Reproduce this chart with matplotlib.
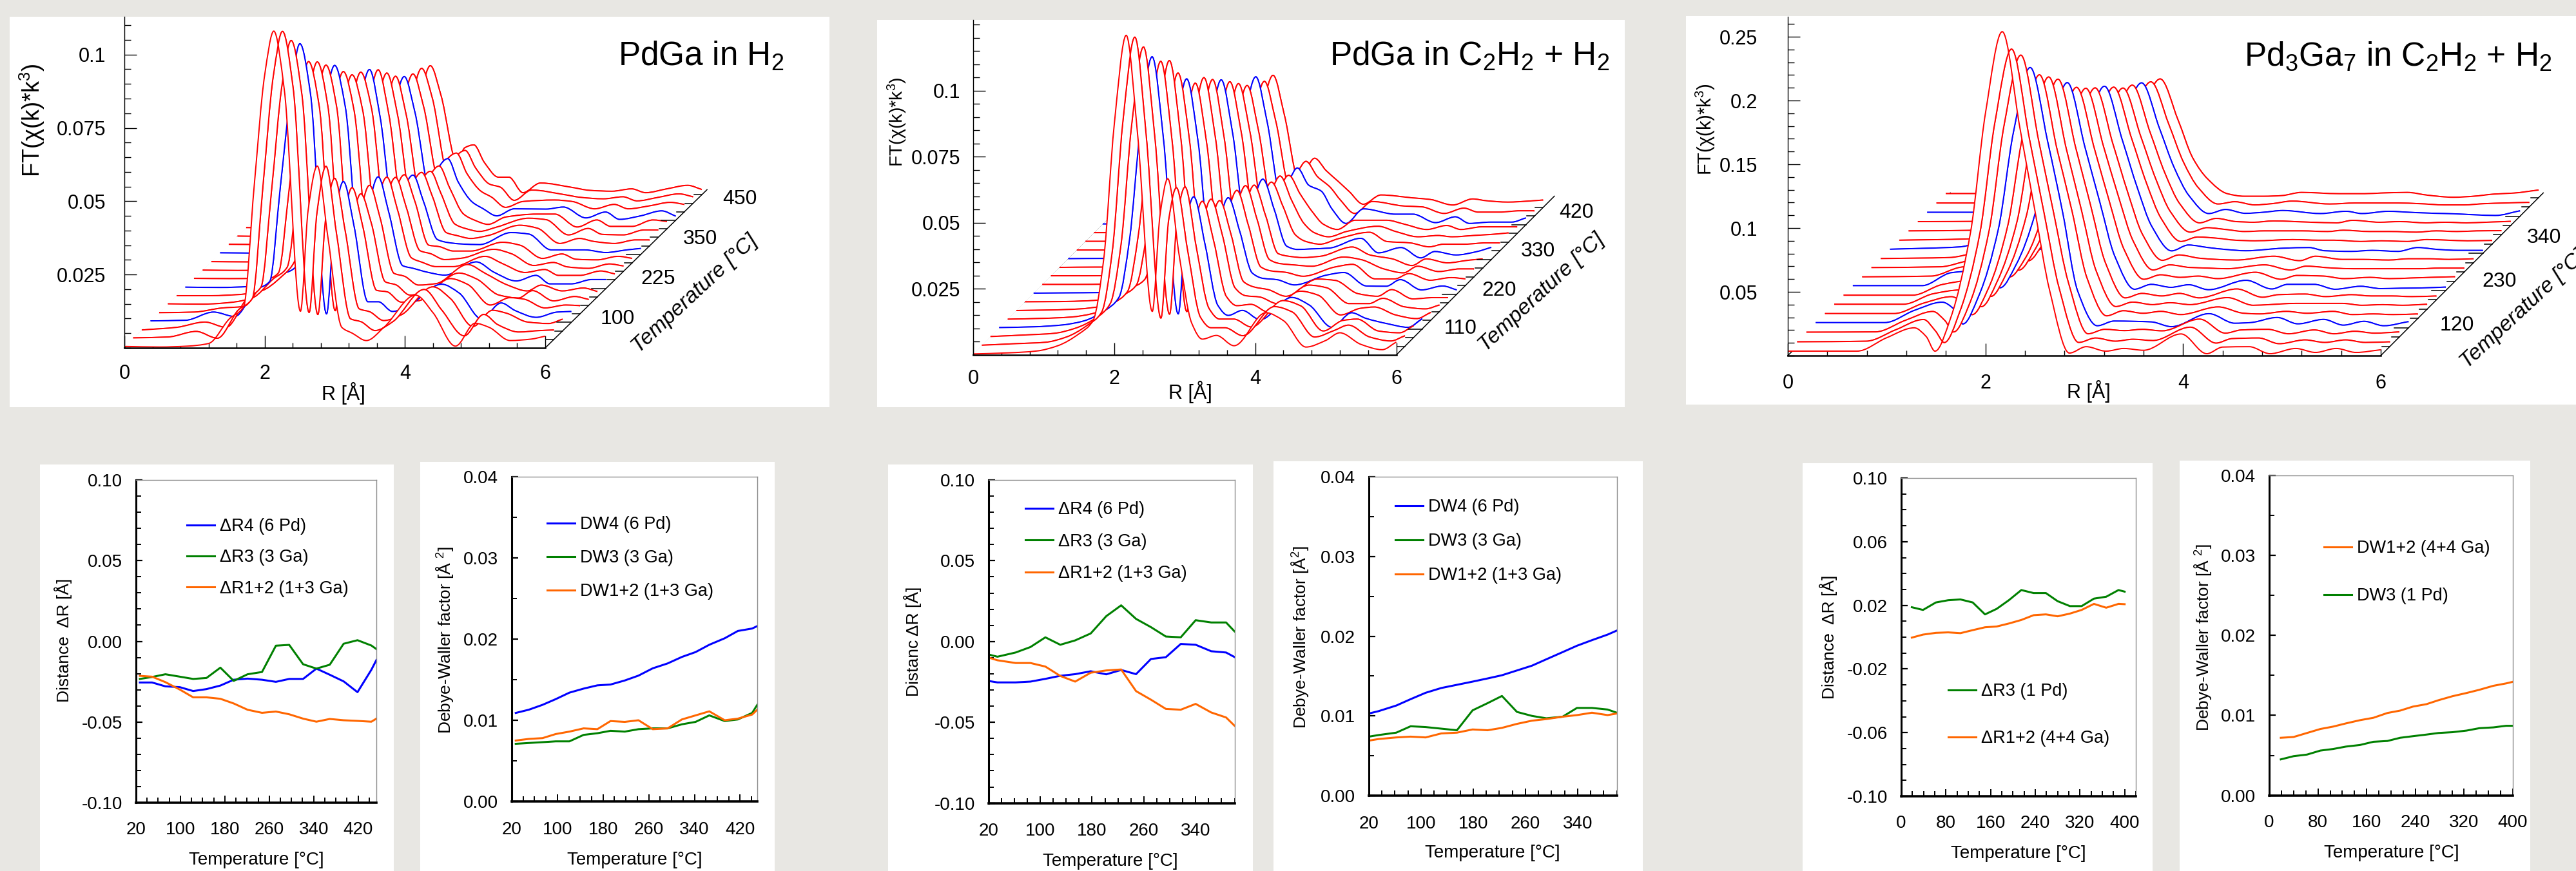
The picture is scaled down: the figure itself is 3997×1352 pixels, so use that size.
import numpy as np
import matplotlib
matplotlib.use("Agg")
import matplotlib.pyplot as plt
from matplotlib.path import Path
from matplotlib.patches import PathPatch, Rectangle
from matplotlib.ticker import MultipleLocator

plt.rcParams['font.family'] = ['Liberation Sans', 'DejaVu Sans']
plt.rcParams['mathtext.default'] = 'regular'

W, H = 3997, 1352
BG = '#e8e7e3'
BLUE = '#0000ff'
GREEN = '#008000'
ORANGE = '#ff6600'
RED = '#ff0000'

# --- waterfall data, FT values x 1000, one row per temperature step (front to back)
R_H2 = [0, .5, .9, 1.2, 1.5, 1.7, 1.85, 2.0, 2.13, 2.28, 2.51, 2.62, 2.75, 2.9, 3.1, 3.25, 3.45, 3.7, 4.15, 4.4, 4.72, 5.0, 5.2, 5.5, 5.8, 6.0]
FT_H2 = [
    [.5, .3, .6, 1.5, 10, 14, 55, 93, 108, 88, 12.5, 47, 62, 38, 7, 5, 2.5, 7, 18, 12, .6, 8.4, 7, 2.5, 3, 4],
    [.5, .8, 2.7, .4, 10, 14, 52, 90, 105, 86, 9.2, 43, 59, 36, 7, 6, 3, 6, 17, 10, 1.2, 8.5, 5, 2.5, 3, 3.2],
    [.3, 1.2, 3, 1.2, 11, 15, 48, 84, 99, 81, 5.6, 38, 52, 34, 7.5, 6.5, 3.5, 5.5, 15, 11, 1.5, 7, 6, 3, 2.5, 4],
    [.5, .7, 3.5, 2, 11, 14, 46, 78, 95, 78, 2.9, 34, 48, 33, 7, 7, 3.7, 6, 13, 10, 1.2, 6.6, 4, 1.7, 3.5, 3.7],
    [.4, .6, 2, 2.5, 11, 14, 42, 72, 86, 71, 1.1, 30, 43, 30, 8, 7.5, 4, 4.5, 12, 10, 3, 5.5, 5, 2, 3, 2.8],
    [.5, .4, 1, 2.5, 9, 13, 40, 70, 83, 68, 3, 27, 38, 28, 8, 7, 3.5, 4.5, 11, 9, 3.5, 2.5, 5, 1.5, 3, 2],
    [.4, .4, .8, 2, 7, 13, 38, 67, 79, 65, 4, 28, 38, 27, 8, 7, 4, 4.5, 11, 8, 4, 2, 4, 2, 3, 1.8],
    [.4, .3, .6, 4, 6, 12, 36, 64, 76, 62, 6, 28, 38, 26, 7.7, 6.8, 5.5, 4.5, 9, 5.5, 2.5, 4.4, 1.5, 1.5, 3, 3],
    [.5, .4, .5, 3, 5, 10, 32, 60, 71, 58, 8, 27, 35, 24, 7.5, 6, 4.5, 4.5, 8, 5.5, 2.5, 3.5, 1.5, 1.5, 3, 2],
    [.4, .3, .4, 2, 4, 9, 30, 56, 67, 55, 9, 25, 32, 22, 7, 6, 4, 4.5, 7.5, 6, 2, 3, 1.5, 1, 2.5, 1.8],
    [.4, .3, .4, 1.5, 3, 8, 28, 54, 65, 53, 10, 24, 30, 21, 6, 5.5, 4, 4, 7, 6, 1.5, 3, 1.2, 1, 2.2, 1.5],
    [.5, .4, .3, 1, 2.5, 7, 26, 52, 63, 47, 8, 22, 27, 18, 5, 4, 3.5, 3.3, 7.4, 6.9, 1.5, 1.5, 1.5, .6, 1.5, 2],
    [.5, .4, .3, .5, 1.8, 6, 24, 49, 60, 45, 8, 21, 25, 17, 4.5, 3.5, 2.5, 3.5, 7, 6, .8, 2.5, 1.5, .8, 2, 2],
    [.4, .3, .3, .4, 1.6, 6, 22, 46, 56, 42, 8, 19, 22.5, 15, 4.5, 3, 2, 3.5, 6.5, 6, .8, 3, 1, .8, 2.5, 2.5],
    [.4, .3, .3, .4, 1.5, 5, 20, 42, 52, 39, 8, 18, 21.4, 14, 5, 3, 1.5, 4, 5, 5, .6, 3, .8, .8, 3, 2.5],
    [.4, .4, .3, .4, 1.4, 5, 19, 40, 49, 37, 9, 18, 21, 13, 6.2, 4, 1.5, 3.9, 3.8, 4.5, .8, 2.8, .3, 1.5, 3.2, 1.4],
    [.4, .3, .3, .4, 1.3, 4.5, 18, 38, 47, 36, 10, 18, 20, 13, 7, 5, 1.5, 3.5, 4, 3.5, 1, 2.5, 1, 2, 3.2, 2.5],
    [.4, .3, .3, .4, 1.2, 4, 17, 37, 46, 36, 10, 16, 18, 12, 6.5, 5.5, 1, 4.5, 3, 2, 1.5, 2.2, .8, 2, 3.2, 2.2],
    [.4, .3, .3, .4, 1.2, 4, 16, 35, 44, 34, 11, 16, 17, 11, 6, 6, .7, 4, 2.5, 1.5, 1.2, 2, .7, 2, 3.2, 1.8],
]

R_C2H2 = [0, .5, .9, 1.2, 1.5, 1.7, 1.85, 2.0, 2.17, 2.33, 2.54, 2.65, 2.76, 2.92, 3.1, 3.25, 3.45, 3.7, 4.15, 4.4, 4.72, 5.0, 5.2, 5.5, 5.8, 6.0]
FT_C2H2 = [
    [.4, .8, 1.5, 3.5, 8, 13, 36, 87, 121, 84, 16.5, 53, 66.7, 38, 12, 6, 7.4, 3.5, 16, 13, 3, 5.5, 8.4, 4, 2, 4.9],
    [.4, 1, 1.5, 3.5, 8, 13, 36, 85, 117, 80, 10.7, 48, 60, 36, 11, 7, 7, 4, 15, 13, 3.5, 6, 8, 3.5, 2, 4],
    [.4, 1, 1.6, 3.5, 7.5, 13, 35, 80, 110, 76, 8.9, 46, 57, 34, 11, 7, 7, 4, 14, 12, 2.5, 6.5, 7, 2.5, 1.8, 4.5],
    [.5, .8, 1.5, 3, 7, 12, 34, 75, 103, 72, 5.7, 40, 50, 32, 9, 5.1, 7, 3.5, 11.9, 9, .6, 6.1, 4, 2, .6, 3.9],
    [.4, .7, 1.2, 2.5, 6.5, 11, 32, 70, 98, 68, 3.3, 36, 45, 30, 9, 5.5, 6, 3, 11, 9.5, 2, 4.5, 5, 2, .6, 3],
    [.4, .6, 1, 2, 6, 10, 30, 68, 95, 66, 4, 34, 42.5, 29, 9, 6, 5.5, 3, 10, 9, 3, 3, 5, 1.8, 1, 2.5],
    [.4, .5, .8, 1.6, 5.5, 9, 28, 62, 87, 62, 5, 31, 38.7, 26, 8, 6, 5, 2.5, 9, 8.5, 3.5, 2.5, 5, 1.5, 2, 2],
    [.4, .5, .6, 1.2, 5, 9, 26, 58, 81.5, 58, 6, 29, 36.5, 24, 8, 6, 5.5, 3.5, 7.2, 8.2, 3.1, 3, 5.5, 1.6, 3.1, 1.6],
    [.4, .4, .5, 1, 4.5, 8, 25, 54, 76.6, 54, 7, 29, 36, 23, 7, 5.5, 5, 3.5, 7, 8, 2.5, 2.5, 4.5, 2, 3, 2.5],
    [.4, .4, .5, .8, 4, 7.5, 24, 53, 75.4, 53, 8, 28, 34.5, 22, 6.5, 5, 4.5, 4, 7.5, 6.5, 3, 1.5, 4, 2, 3, 3],
    [.3, .4, .4, .7, 3.5, 7, 22, 50, 71.4, 50, 8, 25, 31.4, 20, 5.5, 4.5, 4, 4.5, 8, 5, 3.5, 1, 3.5, 2, 3, 3.5],
    [.3, .4, .4, .6, 3, 6.5, 20, 47, 68, 48, 9, 24, 30.4, 19, 5, 3.8, 4, 4.3, 8, 2.5, 4.5, .6, 3, 1.7, 3, 4.6],
    [.3, .3, .4, .5, 2.5, 6, 19, 44, 64, 45, 9, 21, 26, 17, 6, 3.5, 2.5, 4.5, 7, 3.5, 3, 1.5, 2.5, 2.5, 3, 3],
    [.3, .3, .3, .5, 2.2, 5.5, 18, 41, 60, 42, 9, 20, 25, 16, 7, 3.5, 2, 4, 6, 4, 2, 2.5, 2, 2.5, 3, 3.5],
    [.3, .3, .3, .4, 2, 5, 17, 39, 56, 39, 9, 18, 22, 15, 8, 3.5, 1.5, 5, 5, 3.5, 1.5, 3, 1.5, 2.5, 2.5, 2.5],
    [.3, .3, .3, .4, 2, 5, 17, 39, 56, 39, 9, 17, 21.5, 15, 12.7, 6, .5, 6, 4, 4, .8, 3, .5, 1, 1, 2.6],
    [.3, .3, .3, .4, 1.8, 4.5, 15, 35, 51, 36, 10, 17, 20.7, 15, 11, 6, 1, 5.5, 3.8, 3.5, 1, 3, 1.5, 1.5, 2, 2],
    [.3, .3, .3, .4, 1.8, 4.5, 15, 35, 50, 35, 10, 15, 18.6, 14, 9.7, 6, 1.2, 4.7, 3.6, 3, .9, 3.2, 2.5, 2, 2.4, 2.8],
]

R_PD3GA7 = [0, .7, 1.0, 1.28, 1.4, 1.49, 1.65, 1.85, 2.0, 2.17, 2.35, 2.5, 2.65, 2.85, 3.02, 3.22, 3.4, 3.6, 3.98, 4.24, 4.4, 4.67, 4.88, 5.14, 5.34, 5.55, 5.75, 6.0]
FT_PD3GA7 = [
    [3.5, 3.5, 14, 21.8, 15, 3.5, 30, 97, 190, 254, 178, 114, 51, 2, 7, 3.5, 5.6, 4.2, 17, 1.5, 6.7, 7, 1.5, 5.6, 2.5, 5.6, 2.5, 4.6],
    [3.5, 4, 13, 21, 12, 3, 28, 89, 175, 233, 163, 104, 46, 3, 6.5, 4, 5.5, 4.5, 15, 2.5, 6, 6.5, 2, 5, 3, 5, 3, 3.5],
    [3.8, 4, 13, 20, 13, 4, 26, 84, 166, 221, 154, 98, 43, 2.5, 6, 5, 6, 4.8, 14, 3, 5.5, 6, 2.5, 5.5, 2.5, 4.5, 3, 4],
    [4, 4, 13.6, 20, 14.5, 3, 25, 78, 153, 204, 145, 90, 29, 1.5, 5.2, 5, 4.5, .8, 11, 3.5, 4, 8, 3, 6.5, 2, 5, 1.5, 4.8],
    [3.8, 3.8, 12, 17, 12, 3, 23, 73, 143, 191, 132, 84, 32, 2, 6, 4, 5.5, 3, 9, 4, 3.5, 5.5, 4, 5.5, 3, 3.5, 3, 3.5],
    [3.8, 3.8, 12, 15, 10, 2, 22, 69, 137, 182, 125, 78, 30, 2, 5.5, 3.5, 5, 3.5, 9, 3, 3.5, 4.5, 4.5, 4.5, 3, 3.5, 3, 3.8],
    [3.6, 3.6, 12, 15, 10, 2.7, 21, 66, 130, 173, 119, 74, 29, 1.5, 5, 3, 5, 1.5, 8.5, 2, 4, 4.5, 2.5, 4, 3, 3, 2.5, 3],
    [3.8, 3.8, 14, 15.5, 10, 2.2, 20, 62, 122, 163, 112, 69, 27, 1, 4.8, 2.5, 4.5, .6, 8, 1.2, 4.8, 4.8, 1, 3.3, 1.5, 1.8, 2, 2.7],
    [3.4, 4, 11, 13, 9, 3.3, 18, 58, 114, 152, 104, 63, 25, 1.5, 5, 3, 4, 2, 7, 1.5, 4.5, 4, 2, 3, 2, 2.5, 3, 3.5],
    [3.4, 4, 9, 11, 7, 1.4, 17, 55, 108, 144, 98, 59, 24, 1.5, 5.5, 3.5, 3, 2.5, 5.5, 1.5, 4.5, 3, 2.5, 2.5, 2.5, 2.5, 3, 3],
    [3.2, 4, 8, 9, 6, 1.4, 16, 52, 103, 137, 93, 55, 22, 1.8, 6, 3.5, 2.5, 2, 5, 1.5, 5, 2.5, 2.5, 2, 3, 3, 2.5, 3],
    [3.2, 5, 9, 8, 5, 2.5, 16, 50, 98, 131, 89, 52, 21, 1.9, 6.5, 4.5, 3, 2, 4, 4.5, 2, 1.5, 2.3, 1.5, 4.5, 3, 2.3, 2.3],
    [3, 4, 6, 6.5, 4.5, 2.5, 15, 47, 92, 123, 83, 48, 20, 2, 5.5, 4.5, 3, 2.5, 3.5, 3, 3, 2, 2.5, 2, 3.5, 3, 2.5, 2.8],
    [3, 3.5, 5, 5.5, 4, 2.5, 14, 44, 86, 115, 77, 44, 18, 2, 5.5, 4, 2.5, 3, 3, 2.5, 3.5, 2.5, 2.5, 2, 3, 2.5, 3, 3.2],
    [3, 3.2, 4, 4.5, 3.5, 2.5, 13, 42, 82, 110, 73, 41, 17, 2, 5.5, 3, 2.5, 3.5, 2.5, 2, 4, 2.5, 3, 2, 2.5, 2, 2.5, 3.2],
    [3, 3, 3.2, 4, 3, 2.5, 13, 40, 78, 104.5, 69, 38, 16, 2, 5.2, 2.2, 3, 4.4, 2, 3.8, 2, 3.8, 3, 2.2, 1.8, 1, .5, 4.2],
    [3, 3, 3.2, 3.8, 3, 2.5, 12, 37, 74, 98, 65, 35, 15, 2.2, 4, 1.5, 2.5, 4.5, 2.2, 3, 3, 3, 2.5, 1.5, 1.5, 2.5, 3, 3.5],
    [3.1, 3.1, 3.2, 3.6, 3, 2.5, 11, 35, 70, 93, 61, 31, 14.6, 3, 1, 1, 1.5, 4, 3, 3, 3.5, 4, 1.8, .2, 1, 2.7, 3.5, 5.9],
]

# --- fit results, PdGa in H2
T_A = [27, 49, 73, 99, 123, 147, 172, 196, 221, 247, 272, 296, 321, 345, 369, 394, 419, 444, 453]
DR4_A = [-.0255, -.0255, -.0279, -.0284, -.0308, -.0296, -.0274, -.0238, -.0231, -.0238, -.0251, -.0233, -.0233, -.0169, -.0207, -.0248, -.0315, -.0176, -.0116]
DR3_A = [-.0233, -.0221, -.0204, -.0219, -.0233, -.0227, -.0163, -.0245, -.0204, -.0190, -.0027, -.0022, -.0142, -.0169, -.0145, -.0015, .0007, -.0026, -.0048]
DR12_A = [-.0214, -.0219, -.0253, -.0299, -.0347, -.0347, -.0356, -.0385, -.0424, -.0443, -.0435, -.0452, -.0479, -.0498, -.0481, -.0489, -.0493, -.0498, -.0479]

T_B = [27, 50, 74, 97, 121, 146, 170, 193, 218, 242, 267, 293, 318, 342, 366, 393, 416, 441, 450]
DW4_B = [.0109, .0113, .0119, .0126, .0134, .0139, .0143, .0144, .0149, .0155, .0164, .0170, .0178, .0184, .0193, .0201, .0210, .0213, .0216]
DW3_B = [.0071, .0072, .0073, .0074, .0074, .0082, .0084, .0087, .0086, .0089, .0090, .0090, .0095, .0098, .0106, .0099, .0101, .0109, .0119]
DW12_B = [.0075, .0077, .0078, .0083, .0086, .0090, .0089, .0099, .0098, .0100, .0089, .0090, .0101, .0106, .0111, .0100, .0102, .0107, .0113]

# --- fit results, PdGa in C2H2 + H2
T_C = [20, 34, 62, 85, 108, 131, 154, 178, 202, 225, 248, 271, 294, 317, 340, 364, 387, 400]
DR4_C = [-.0244, -.0253, -.0253, -.0248, -.0231, -.0212, -.0202, -.0184, -.0203, -.0176, -.0202, -.0108, -.0097, -.0015, -.0020, -.0060, -.0068, -.0096]
DR3_C = [-.0080, -.0094, -.0068, -.0034, .0026, -.0020, .0007, .0050, .0157, .0224, .0140, .0089, .0031, .0026, .0132, .0118, .0118, .0063]
DR12_C = [-.0099, -.0116, -.0133, -.0133, -.0155, -.0213, -.0248, -.0193, -.0179, -.0173, -.0307, -.0360, -.0417, -.0422, -.0386, -.0439, -.0470, -.0521]

T_D = [20, 35, 62, 84, 107, 131, 155, 179, 202, 224, 247, 270, 292, 317, 339, 362, 386, 400]
DW4_D = [.0103, .0106, .0113, .0121, .0129, .0135, .0139, .0143, .0147, .0151, .0157, .0163, .0171, .0180, .0188, .0195, .0202, .0207]
DW3_D = [.0074, .0076, .0079, .0087, .0086, .0084, .0082, .0107, .0116, .0125, .0105, .0100, .0097, .0099, .0110, .0110, .0108, .0104]
DW12_D = [.0069, .0071, .0073, .0074, .0073, .0078, .0079, .0083, .0082, .0085, .0090, .0094, .0096, .0099, .0101, .0104, .0101, .0103]

# --- fit results, Pd3Ga7 in C2H2 + H2
T_E = [19, 39, 62, 84, 106, 128, 150, 171, 193, 215, 237, 259, 280, 302, 323, 345, 367, 389, 400]
DR3_E = [.0188, .0171, .0218, .0232, .0237, .0218, .0143, .0178, .0233, .0296, .0277, .0277, .0226, .0195, .0195, .0242, .0254, .0296, .0286]
DR12_E = [-.0003, .0016, .0027, .0030, .0025, .0044, .0062, .0067, .0086, .0108, .0138, .0143, .0131, .0148, .0171, .0209, .0185, .0209, .0207]

T_F = [19, 40, 62, 84, 105, 126, 149, 171, 194, 215, 236, 258, 278, 301, 324, 345, 368, 389, 400]
DW12_F = [.0072, .0073, .0078, .0083, .0086, .0090, .0094, .0097, .0103, .0106, .0111, .0114, .0119, .0124, .0128, .0132, .0137, .0140, .0142]
DW3_F = [.0045, .0049, .0051, .0056, .0058, .0061, .0063, .0067, .0068, .0072, .0074, .0076, .0078, .0079, .0081, .0084, .0085, .0087, .0087]


fig = plt.figure(figsize=(W / 100, H / 100), dpi=100, facecolor=BG)


def fx(x):
    return x / W


def fy(y):
    return 1 - y / H


def panel(x0, y0, x1, y1):
    fig.add_artist(Rectangle((fx(x0), fy(y1)), (x1 - x0) / W, (y1 - y0) / H, transform=fig.transFigure,
                             facecolor='white', edgecolor='none', zorder=-1))


def axes_px(left, top, right, bottom):
    ax = fig.add_axes([fx(left), fy(bottom), (right - left) / W, (bottom - top) / H])
    ax.patch.set_visible(False)
    return ax


def smooth_path(x, y):
    # bezier through the read points, flat at the peaks so nothing overshoots
    x = np.asarray(x, float)
    y = np.asarray(y, float)
    h = np.diff(x)
    d = np.diff(y) / h
    m = np.zeros_like(y)
    m[0], m[-1] = d[0], d[-1]
    for k in range(1, len(x) - 1):
        if d[k - 1] * d[k] > 0:
            w1 = 2 * h[k] + h[k - 1]
            w2 = h[k] + 2 * h[k - 1]
            m[k] = (w1 + w2) / (w1 / d[k - 1] + w2 / d[k])
    verts = [(x[0], y[0])]
    codes = [Path.MOVETO]
    for k in range(len(h)):
        verts.append((x[k] + h[k] / 3, y[k] + m[k] * h[k] / 3))
        verts.append((x[k + 1] - h[k] / 3, y[k + 1] - m[k + 1] * h[k] / 3))
        verts.append((x[k + 1], y[k + 1]))
        codes += [Path.CURVE4] * 3
    return verts, codes


def waterfall(box, r, ft, ymax, dr, df, tip, major, minor, ylabels, padx, pady):
    left, top, right, bottom = box
    ax = axes_px(left, top, right, bottom)
    ax.set_xlim(0, 6)
    ax.set_ylim(0, ymax)
    r_per_px = 6 / (right - left)
    n = len(ft)
    # depth axes and their ticks
    ax.plot([0, tip * dr], [0, tip * df], color='k', lw=1.1, clip_on=False, zorder=1)
    ax.plot([6, 6 + tip * dr], [0, tip * df], color='k', lw=1.1, clip_on=False, zorder=200)
    for i in range(1, n):
        ln = 22 if i % 4 == 3 else 12
        ax.plot([i * dr, i * dr + ln * r_per_px], [i * df, i * df], color='k', lw=1.1, clip_on=False, zorder=1)
        ax.plot([6 + i * dr, 6 + i * dr - ln * r_per_px], [i * df, i * df], color='k', lw=1.1, clip_on=False, zorder=200)
    # surface seen from the front: the white strip between two neighbours hides what is behind,
    # the space under the front curve stays open
    prev = None
    prev_col = None
    for i in range(n - 1, -1, -1):
        xs = np.array(r) + i * dr
        ys = np.array(ft[i]) / 1000 + i * df
        verts, codes = smooth_path(xs, ys)
        col = BLUE if i % 4 == 3 else RED
        z = 10 + 2 * (n - i)
        if prev is not None:
            strip = Path(verts + prev[::-1] + [prev[0]],
                         codes + [Path.LINETO] + codes[1:] + [Path.CLOSEPOLY])
            ax.add_patch(PathPatch(strip, facecolor='white', edgecolor='none', clip_on=False, zorder=z))
            # the strip covers half the width of its back edge, so that edge is stroked again
            ax.add_patch(PathPatch(Path(prev, codes), facecolor='none', edgecolor=prev_col, lw=1.4,
                                   clip_on=False, zorder=z))
        ax.add_patch(PathPatch(Path(verts, codes), facecolor='none', edgecolor=col, lw=1.4, clip_on=False, zorder=z + 1))
        prev = verts
        prev_col = col
    for s in ['top', 'right']:
        ax.spines[s].set_visible(False)
    ax.spines['left'].set_linewidth(1.0)
    ax.spines['bottom'].set_linewidth(1.8)
    for s in ax.spines.values():
        s.set_zorder(201)
    ax.set_xticks([0, 2, 4, 6], ['0', '2', '4', '6'])
    ax.xaxis.set_minor_locator(MultipleLocator(.4))
    ax.set_yticks(major, ylabels)
    ax.yaxis.set_minor_locator(MultipleLocator(minor))
    ax.tick_params(axis='x', which='major', direction='in', length=14, width=1, labelsize=22, pad=pady, zorder=201)
    ax.tick_params(axis='x', which='minor', direction='in', length=6, width=1, zorder=201)
    ax.tick_params(axis='y', which='major', direction='in', length=14, width=1, labelsize=22, pad=padx, zorder=201)
    ax.tick_params(axis='y', which='minor', direction='in', length=7, width=1, zorder=201)
    return ax


def label(x, y, s, size=21, rot=0, **kw):
    fig.text(fx(x), fy(y), s, fontsize=size, rotation=rot, ha=kw.pop('ha', 'center'), va=kw.pop('va', 'center'),
             rotation_mode='anchor', **kw)


def fit_axes(box, t, series, xlim, xticks, xlabels, ylim, yticks, ylabels, yminor, pady, legend_at, spacing):
    left, top, right, bottom = box
    ax = axes_px(left, top, right, bottom)
    for vals, col, name in series:
        ax.plot(t, vals, color=col, lw=2.2, label=name, clip_on=True, solid_joinstyle='round')
    ax.set_xlim(*xlim)
    ax.set_ylim(*ylim)
    ax.spines['left'].set_linewidth(2.2)
    ax.spines['bottom'].set_linewidth(2.6)
    for s in ['top', 'right']:
        ax.spines[s].set_linewidth(1.0)
        ax.spines[s].set_color('#8c8c8c')
    ax.set_xticks(xticks, xlabels)
    ax.xaxis.set_minor_locator(MultipleLocator(20))
    ax.set_yticks(yticks, ylabels)
    ax.yaxis.set_minor_locator(MultipleLocator(yminor))
    ax.tick_params(axis='x', which='major', direction='in', length=8, width=1.4, labelsize=20, pad=pady)
    ax.tick_params(axis='x', which='minor', direction='in', length=6, width=1.4)
    ax.tick_params(axis='y', which='major', direction='in', length=7, width=1.6, labelsize=20, pad=15)
    ax.tick_params(axis='y', which='minor', direction='in', length=6, width=1.4)
    ax.legend(loc='upper left', bbox_to_anchor=(fx(legend_at[0]), fy(legend_at[1])), bbox_transform=fig.transFigure,
              frameon=False, fontsize=19.5, borderpad=0, borderaxespad=0, handlelength=1.6, handletextpad=.3,
              labelspacing=spacing)
    return ax


# white panels behind every chart
for p in [(15, 26, 1287, 632), (1361, 31, 2521, 632), (2616, 25, 3997, 628),
          (62, 721, 611, 1352), (652, 717, 1202, 1352), (1378, 721, 1944, 1352),
          (1976, 716, 2549, 1352), (2797, 719, 3340, 1352), (3382, 715, 3926, 1352)]:
    panel(*p)

# top row
waterfall((193, 26, 846, 540), R_H2, FT_H2, .1129, .124, .0029, 18.6,
          [.025, .05, .075, .1], .005, ['0.025', '0.05', '0.075', '0.1'], 21, 18)
label(959, 101.6, r'PdGa in H$_2$', size=37, ha='left', va='baseline')
label(50, 187, r'FT($\chi$(k)*k$^3$)', size=26, rot=90)
label(533, 611, 'R [Å]', size=22)
for t, x, y in [('100', 958, 495), ('225', 1021, 433), ('350', 1086, 371), ('450', 1148, 309)]:
    label(x, y, t, size=23)
label(1078, 456, 'Temperature [°C]', size=24, rot=43, style='italic')

waterfall((1510, 31, 2166.5, 551), R_C2H2, FT_C2H2, .1268, .1225, .003285, 18.3,
          [.025, .05, .075, .1], .005, ['0.025', '0.05', '0.075', '0.1'], 14, 16)
label(2063, 101.6, r'PdGa in C$_2$H$_2$ + H$_2$', size=37, ha='left', va='baseline')
label(1392, 189, r'FT($\chi$(k)*k$^3$)', size=20.5, rot=90)
label(1847, 609, 'R [Å]', size=22)
for t, x, y in [('110', 2266, 510), ('220', 2326, 451), ('330', 2386, 390), ('420', 2446, 330)]:
    label(x, y, t, size=23)
label(2392, 454, 'Temperature [°C]', size=24, rot=43, style='italic')

waterfall((2774, 26, 3694, 552), R_PD3GA7, FT_PD3GA7, .2657, .094, .00729, 17.5,
          [.05, .1, .15, .2, .25], .01, ['0.05', '0.1', '0.15', '0.2', '0.25'], 34, 20)
label(3482, 101.6, r'Pd$_3$Ga$_7$ in C$_2$H$_2$ + H$_2$', size=37, ha='left', va='baseline')
label(2646, 201, r'FT($\chi$(k)*k$^3$)', size=21, rot=90)
label(3241, 607, 'R [Å]', size=22)
for t, x, y in [('120', 3812, 505), ('230', 3878, 437), ('340', 3947, 369)]:
    label(x, y, t, size=23)
label(3915, 480, 'Temperature [°C]', size=24, rot=43, style='italic')

# bottom row
DR_TICKS = [-.1, -.05, 0, .05, .1]
DR_LABELS = ['-0.10', '-0.05', '0.00', '0.05', '0.10']
DW_TICKS = [0, .01, .02, .03, .04]
DW_LABELS = ['0.00', '0.01', '0.02', '0.03', '0.04']
T_TICKS_20 = [20, 100, 180, 260, 340, 420]
T_LABELS_20 = ['20', '100', '180', '260', '340', '420']

fit_axes((211, 745, 584, 1246), T_A,
         [(DR4_A, BLUE, 'ΔR4 (6 Pd)'), (DR3_A, GREEN, 'ΔR3 (3 Ga)'), (DR12_A, ORANGE, 'ΔR1+2 (1+3 Ga)')],
         (20, 453), T_TICKS_20, T_LABELS_20, (-.1, .1), DR_TICKS, DR_LABELS, .01, 21, (290, 804), .83)
fit_axes((794, 740, 1175, 1244), T_B,
         [(DW4_B, BLUE, 'DW4 (6 Pd)'), (DW3_B, GREEN, 'DW3 (3 Ga)'), (DW12_B, ORANGE, 'DW1+2 (1+3 Ga)')],
         (20, 450), T_TICKS_20, T_LABELS_20, (0, .04), DW_TICKS, DW_LABELS, .005, 22, (849, 801), .96)
fit_axes((1533.6, 745, 1915.5, 1246.6), T_C,
         [(DR4_C, BLUE, 'ΔR4 (6 Pd)'), (DR3_C, GREEN, 'ΔR3 (3 Ga)'), (DR12_C, ORANGE, 'ΔR1+2 (1+3 Ga)')],
         (20, 400), T_TICKS_20[:-1], T_LABELS_20[:-1], (-.1, .1), DR_TICKS, DR_LABELS, .01, 22, (1591, 778), .87)
fit_axes((2124, 740, 2508.6, 1235), T_D,
         [(DW4_D, BLUE, 'DW4 (6 Pd)'), (DW3_D, GREEN, 'DW3 (3 Ga)'), (DW12_D, ORANGE, 'DW1+2 (1+3 Ga)')],
         (20, 400), T_TICKS_20[:-1], T_LABELS_20[:-1], (0, .04), DW_TICKS, DW_LABELS, .005, 22, (2165, 774), 1.0)
fit_axes((2950, 742, 3314, 1236), T_E,
         [(DR3_E, GREEN, 'ΔR3 (1 Pd)'), (DR12_E, ORANGE, 'ΔR1+2 (4+4 Ga)')],
         (0, 420), [0, 80, 160, 240, 320, 400], ['0', '80', '160', '240', '320', '400'],
         (-.1, .1), [-.1, -.06, -.02, .02, .06, .1], ['-0.10', '-0.06', '-0.02', '0.02', '0.06', '0.10'], .01, 21,
         (3023, 1060), 1.75)
fit_axes((3521, 738, 3899, 1234.6), T_F,
         [(DW12_F, ORANGE, 'DW1+2 (4+4 Ga)'), (DW3_F, GREEN, 'DW3 (1 Pd)')],
         (0, 400), [0, 80, 160, 240, 320, 400], ['0', '80', '160', '240', '320', '400'],
         (0, .04), DW_TICKS, DW_LABELS, .005, 21, (3606, 838), 1.78)

for x, y, s in [(98, 994, 'Distance  ΔR [Å]'), (690, 993, 'Debye-Waller factor [Å $^{2}$]'),
                (1416, 996, 'Distanc ΔR [Å]'), (2017, 989, 'Debye-Waller factor [Å$^{2}$]'),
                (2837, 989, 'Distance  ΔR [Å]'), (3418, 989, 'Debye-Waller factor [Å $^{2}$]')]:
    label(x, y, s, size=19, rot=90)
for x, y in [(398, 1335), (985, 1335), (1723, 1337), (2316, 1324), (3132, 1325), (3711, 1324)]:
    label(x, y, 'Temperature [°C]', size=20)

fig.savefig('out.png', dpi=100, facecolor=BG)
